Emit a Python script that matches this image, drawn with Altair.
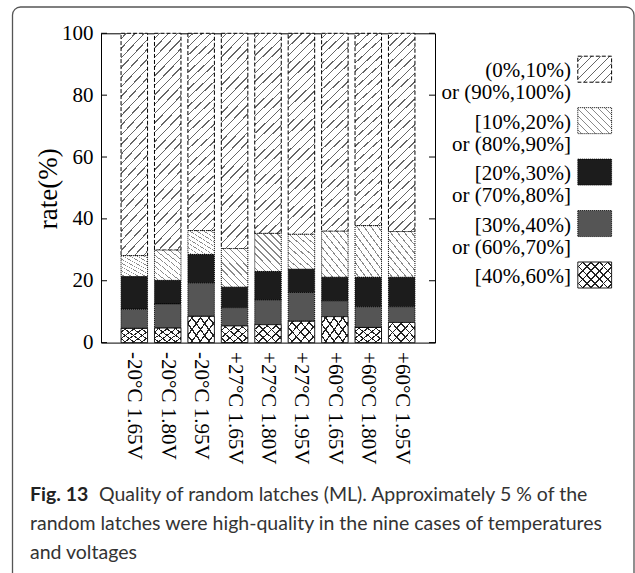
import altair as alt
import pandas as pd

# ---------------- data ----------------
conditions = ["-20°C 1.65V", "-20°C 1.80V", "-20°C 1.95V",
              "+27°C 1.65V", "+27°C 1.80V", "+27°C 1.95V",
              "+60°C 1.65V", "+60°C 1.80V", "+60°C 1.95V"]

# legend entries (top of stack first)
legend_line1 = ["(0%,10%)", "[10%,20%)", "[20%,30%)", "[30%,40%)", "[40%,60%]"]
legend_line2 = ["or (90%,100%)", "or (80%,90%]", "or (70%,80%]", "or (60%,70%]", ""]

# segment heights (rate %) per condition, one list per quality class
rate_40_60 = [4.6, 4.7, 8.5, 5.4, 5.8, 6.9, 8.4, 4.9, 6.5]
rate_30_40 = [6.2, 7.8, 10.8, 5.9, 8.0, 9.3, 5.1, 6.7, 5.1]
rate_20_30 = [10.5, 7.6, 9.2, 6.6, 9.2, 7.5, 7.6, 9.5, 9.5]
rate_10_20 = [6.8, 9.8, 7.7, 12.5, 12.3, 11.3, 14.9, 16.7, 14.8]
rate_0_10 = [71.9, 70.1, 63.8, 69.6, 64.7, 65.0, 64.0, 62.2, 64.1]

y_ticks = [0, 20, 40, 60, 80, 100]

caption_bold = "Fig. 13"
caption_lines = ["Quality of random latches (ML). Approximately 5 % of the",
                 "random latches were high-quality in the nine cases of temperatures",
                 "and voltages"]

# ---------------- styling ----------------
SERIF = "Liberation Serif"
SANS = "Lato"
W, H = 334, 309.3
BAR_W = 26.5
CLEAR = "rgba(255,255,255,0)"


def hatch(w, h, period, line_w, line_col, bg, direction):
    """Linear-gradient hatching for a w x h box (bounding-box units)."""
    a, b = w / h, 1.0
    s = (a + b) / (a * a + b * b)
    L = w + h
    n = int(L / period) + 1
    stops = [alt.GradientStop(offset=0, color=bg)]
    for k in range(n):
        p0 = (k + 0.5) * period / L
        p1 = p0 + line_w / L
        if p1 >= 1:
            break
        stops += [alt.GradientStop(offset=round(p0, 5), color=bg),
                  alt.GradientStop(offset=round(p0, 5), color=line_col),
                  alt.GradientStop(offset=round(p1, 5), color=line_col),
                  alt.GradientStop(offset=round(p1, 5), color=bg)]
    stops.append(alt.GradientStop(offset=1, color=bg))
    if direction == "/":
        return alt.LinearGradient(gradient="linear", stops=stops,
                                  x1=0, y1=0, x2=s * a, y2=s * b)
    return alt.LinearGradient(gradient="linear", stops=stops,
                              x1=0, y1=1, x2=s * a, y2=1 - s * b)


def styles(w, h_top, h_mid, h_low):
    return [
        [(hatch(w, h_top, 9, 1.4, "#666", "white", "/"), [4, 2])],
        [(hatch(w, h_mid, 7, 1.2, "#8a8a8a", "white", "\\"), [1, 1])],
        [("#1c1c1c", [1, 1])],
        [("#555555", [1, 1])],
        [(hatch(w, h_low, 8.5, 1.6, "#222", "white", "/"), [1, 0]),
         (hatch(w, h_low, 8.5, 1.6, "#222", CLEAR, "\\"), None)],
    ]


bar_styles = styles(BAR_W, 208, 38, 19)
leg_styles = styles(34, 26, 26, 26)

series_values = [rate_0_10, rate_10_20, rate_20_30, rate_30_40, rate_40_60]
rows = []
for s_i, (label, vals) in enumerate(zip(legend_line1, series_values)):
    for c, v in zip(conditions, vals):
        rows.append({"condition": c, "series": label, "order": 4 - s_i, "value": v})
df = pd.DataFrame(rows)

base = alt.Chart(df).transform_stack(
    stack="value", groupby=["condition"], as_=["y0", "y1"],
    sort=[alt.SortField("order", order="ascending")])

x_enc = alt.X("condition:N", sort=conditions,
              scale=alt.Scale(paddingInner=0.207, paddingOuter=0.6),
              axis=alt.Axis(title=None, labelAngle=90, ticks=False, domain=False,
                            labelPadding=9, labelFont=SERIF, labelFontSize=21,
                            labelColor="black"))
y_axis = alt.Axis(values=y_ticks, title="rate(%)", ticks=False, domain=False,
                  grid=False, labelPadding=8, labelFont=SERIF, labelFontSize=21,
                  labelColor="black", titleFont=SERIF, titleFontSize=27,
                  titleFontWeight="normal", titleColor="black",
                  titleX=-53, titleY=155, titleAlign="center",
                  titleBaseline="middle", titleAngle=-90)

layers = []
first = True
for label, style_list in zip(legend_line1, bar_styles):
    for fill, dash in style_list:
        mk = dict(fill=fill)
        if dash is None:
            mk.update(strokeWidth=0)
        else:
            mk.update(stroke="black", strokeWidth=1, strokeDash=dash)
        layers.append(
            base.transform_filter(alt.datum.series == label).mark_bar(**mk).encode(
                x=x_enc,
                y=alt.Y("y0:Q", scale=alt.Scale(domain=[0, 100], nice=False),
                        axis=y_axis if first else None),
                y2="y1:Q"))
        first = False

tick_df = pd.DataFrame({"v": y_ticks})
tick_y = alt.Y("v:Q", scale=alt.Scale(domain=[0, 100], nice=False), axis=None)
left_ticks = alt.Chart(tick_df).mark_rule(color="black", strokeWidth=1).encode(
    y=tick_y, x=alt.value(0), x2=alt.value(6))
right_ticks = alt.Chart(tick_df).mark_rule(color="black", strokeWidth=1).encode(
    y=tick_y, x=alt.value(W - 6), x2=alt.value(W))

leg_df = pd.DataFrame({"series": legend_line1, "line2": legend_line2,
                       "idx": list(range(len(legend_line1)))})
leg_y = alt.Y("idx:Q", scale=alt.Scale(domain=[0, 4], range=[35.9, 241.7],
                                       nice=False, zero=False), axis=None)
leg_layers = []
for label, style_list in zip(legend_line1, leg_styles):
    for fill, dash in style_list:
        mk = dict(shape="M-1.3,-1H1.3V1H-1.3Z", size=676, filled=True, opacity=1,
                  fill=fill)
        if dash is None:
            mk.update(strokeWidth=0)
        else:
            mk.update(stroke="black", strokeWidth=1, strokeDash=dash)
        leg_layers.append(
            alt.Chart(leg_df).transform_filter(alt.datum.series == label)
            .mark_point(**mk).encode(x=alt.value(493.7), y=leg_y))

leg_t1 = alt.Chart(leg_df).mark_text(align="right", baseline="middle", font=SERIF,
                                     fontSize=21, dy=2, color="black").encode(
    x=alt.value(470), y=leg_y, text="series:N")
leg_t2 = alt.Chart(leg_df).mark_text(align="right", baseline="middle", font=SERIF,
                                     fontSize=21, dy=24, color="black").encode(
    x=alt.value(470), y=leg_y, text="line2:N")

CAP_SIZE = 19.5
cap_b = alt.Chart(pd.DataFrame({"t": [caption_bold]})).mark_text(
    align="left", baseline="alphabetic", font=SANS, fontSize=CAP_SIZE,
    fontWeight="bold", color="#222").encode(
    text="t:N", x=alt.value(-71), y=alt.value(467.7))
cap1 = alt.Chart(pd.DataFrame({"t": [caption_lines[0]]})).mark_text(
    align="left", baseline="alphabetic", font=SANS, fontSize=CAP_SIZE,
    color="#333").encode(text="t:N", x=alt.value(-2), y=alt.value(467.7))
cap2 = alt.Chart(pd.DataFrame({"t": [caption_lines[1]]})).mark_text(
    align="left", baseline="alphabetic", font=SANS, fontSize=CAP_SIZE,
    color="#333").encode(text="t:N", x=alt.value(-71), y=alt.value(496.7))
cap3 = alt.Chart(pd.DataFrame({"t": [caption_lines[2]]})).mark_text(
    align="left", baseline="alphabetic", font=SANS, fontSize=CAP_SIZE,
    color="#333").encode(text="t:N", x=alt.value(-71), y=alt.value(525.7))

frame = alt.Chart(pd.DataFrame({"a": [0]})).mark_rect(
    fillOpacity=0, stroke="#555", strokeWidth=1.3, cornerRadius=8).encode(
    x=alt.value(-88.5), x2=alt.value(533), y=alt.value(-26.3), y2=alt.value(620))

chart = alt.layer(
    frame, *layers, left_ticks, right_ticks, *leg_layers, leg_t1, leg_t2,
    cap_b, cap1, cap2, cap3
).resolve_scale(y="independent").properties(
    width=W, height=H,
    autosize=alt.AutoSizeParams(type="none"),
    padding={"left": 101, "top": 33.3, "right": 200, "bottom": 230.4},
    background="white",
).configure_view(stroke="black", strokeWidth=1)

chart.save("out.html", embed_options={"renderer": "svg", "actions": False})
